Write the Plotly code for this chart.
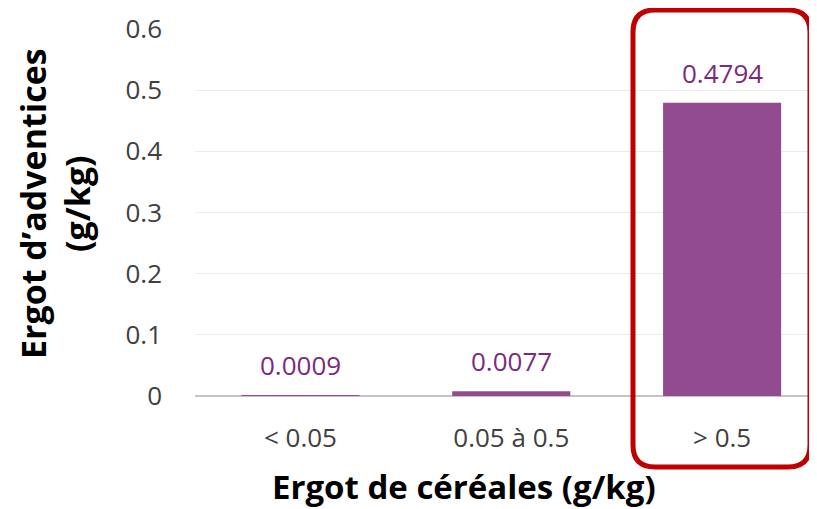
import plotly.graph_objects as go

categories = ["< 0.05", "0.05 à 0.5", "> 0.5"]
values = [0.0009, 0.0077, 0.4794]
value_labels = ["0.0009", "0.0077", "0.4794"]
y_ticks = [0, 0.1, 0.2, 0.3, 0.4, 0.5, 0.6]
y_tick_labels = ["0", "0.1", "0.2", "0.3", "0.4", "0.5", "0.6"]

BAR = "#934b90"
LABEL = "#7a2a7d"
TICK = "#404040"

fig = go.Figure()
fig.add_trace(go.Bar(
    x=categories, y=values, width=0.56,
    marker=dict(color=BAR, line=dict(width=0)),
    hoverinfo="skip",
))

for c, v, t in zip(categories, values, value_labels):
    fig.add_annotation(x=c, y=v, text=t, showarrow=False, yanchor="bottom",
                       xanchor="center", yshift=10,
                       font=dict(family="Open Sans", size=26, color=LABEL))

OFF = 8  # page body margin
W, H = 817 - OFF, 509 - OFF
PL, PR, PT, PB = 195, 817, 29, 396  # plot area in screen pixels
pw, ph = PR - PL, PB - PT

def px(x):
    return (x - PL) / pw

def py(y):
    return (PB - y) / ph

# rounded highlight rectangle
x0, x1, y0, y1 = px(633), px(810), py(467), py(10)
rx, ry = 22 / pw, 22 / ph
path = (f"M {x0+rx},{y1} L {x1-rx},{y1} Q {x1},{y1} {x1},{y1-ry} "
        f"L {x1},{y0+ry} Q {x1},{y0} {x1-rx},{y0} L {x0+rx},{y0} "
        f"Q {x0},{y0} {x0},{y0+ry} L {x0},{y1-ry} Q {x0},{y1} {x0+rx},{y1} Z")
fig.add_shape(type="path", xref="paper", yref="paper", path=path,
              line=dict(color="#c00000", width=5), layer="above")

fig.add_annotation(xref="paper", yref="paper", x=px(464), y=py(486),
                   xanchor="center", yanchor="middle", borderpad=0,
                   text="<b>Ergot de céréales (g/kg)</b>", showarrow=False,
                   font=dict(family="Open Sans", size=33, color="black"))
fig.add_annotation(xref="paper", yref="paper", x=px(55), y=py(204),
                   xanchor="center", yanchor="middle",
                   text="<b>Ergot d’adventices<br>(g/kg)</b>", showarrow=False,
                   textangle=-90,
                   font=dict(family="Open Sans", size=34, color="black"))

fig.update_layout(
    width=W, height=H,
    margin=dict(l=PL - OFF, r=0, t=PT - OFF, b=H + OFF - PB, autoexpand=False),
    paper_bgcolor="white", plot_bgcolor="white",
    showlegend=False,
    xaxis=dict(range=[-0.5, 2.45], showgrid=False, showline=False,
               ticks="", ticklabelstandoff=24,
               tickfont=dict(family="Open Sans", size=26, color=TICK)),
    yaxis=dict(range=[0, 0.6], tickvals=y_ticks, ticktext=y_tick_labels,
               showgrid=True, gridcolor="#ececec", gridwidth=1,
               zeroline=True, zerolinecolor="#c4c4c4", zerolinewidth=2,
               ticks="", ticklabelstandoff=32,
               tickfont=dict(family="Open Sans", size=26, color=TICK)),
)

fig.write_html("out.html")
